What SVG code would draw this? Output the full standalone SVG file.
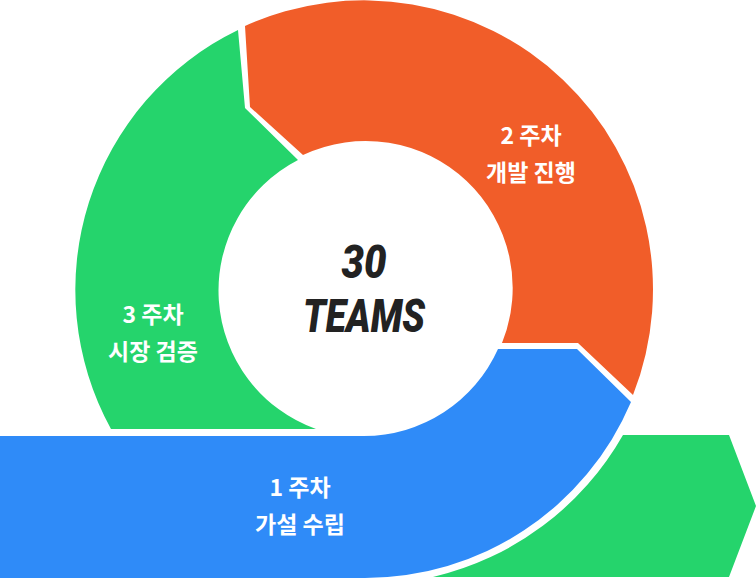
<svg xmlns="http://www.w3.org/2000/svg" width="756" height="579" viewBox="0 0 756 579">
<style>
.g{fill:#25D46C}.o{fill:#F15D29}.b{fill:#2F8BF8}
.lbl{font-family:"Noto Sans CJK KR","Noto Sans",sans-serif;font-weight:700;font-size:23px;fill:#fff;text-anchor:middle}
.big{font-family:Roboto,"Liberation Sans",sans-serif;font-weight:900;font-style:italic;font-size:47px;fill:#222;text-anchor:middle}
</style>
<rect width="756" height="579" fill="#fff"/>
<g id="week3">
<path class="g" d="M238,30 L245,108 L298,160 A147,147 0 0 0 316,429 L111,429 A289,289 0 0 1 238,30 Z"/>
<text class="lbl" x="153" y="323">3 주차</text>
<text class="lbl" x="153" y="360">시장 검증</text>
</g>
<g id="week2">
<path class="o" d="M245,26 A289,289 0 0 1 633,395 L578,343 L502,343 A147,147 0 0 0 303,155 L250,107 Z"/>
<text class="lbl" x="531" y="144">2 주차</text>
<text class="lbl" x="531" y="181">개발 진행</text>
</g>
<g id="week1">
<path class="b" d="M0,436 L364,436 A147,147 0 0 0 498,349 L577,349 L631,402 A289,289 0 0 1 364,578 L0,578 Z"/>
<text class="lbl" x="300" y="496">1 주차</text>
<text class="lbl" x="300" y="533">가설 수립</text>
</g>
<g id="next">
<path class="g" d="M623,435 L729,435 L756,506 L729,577 L433,577 A296,296 0 0 0 623,435 Z"/>
</g>
<g id="center">
<text class="big" x="364" y="278" textLength="45" lengthAdjust="spacingAndGlyphs">30</text>
<text class="big" x="364" y="332" textLength="122" lengthAdjust="spacingAndGlyphs">TEAMS</text>
</g>
<g id="connectors"/>
</svg>
